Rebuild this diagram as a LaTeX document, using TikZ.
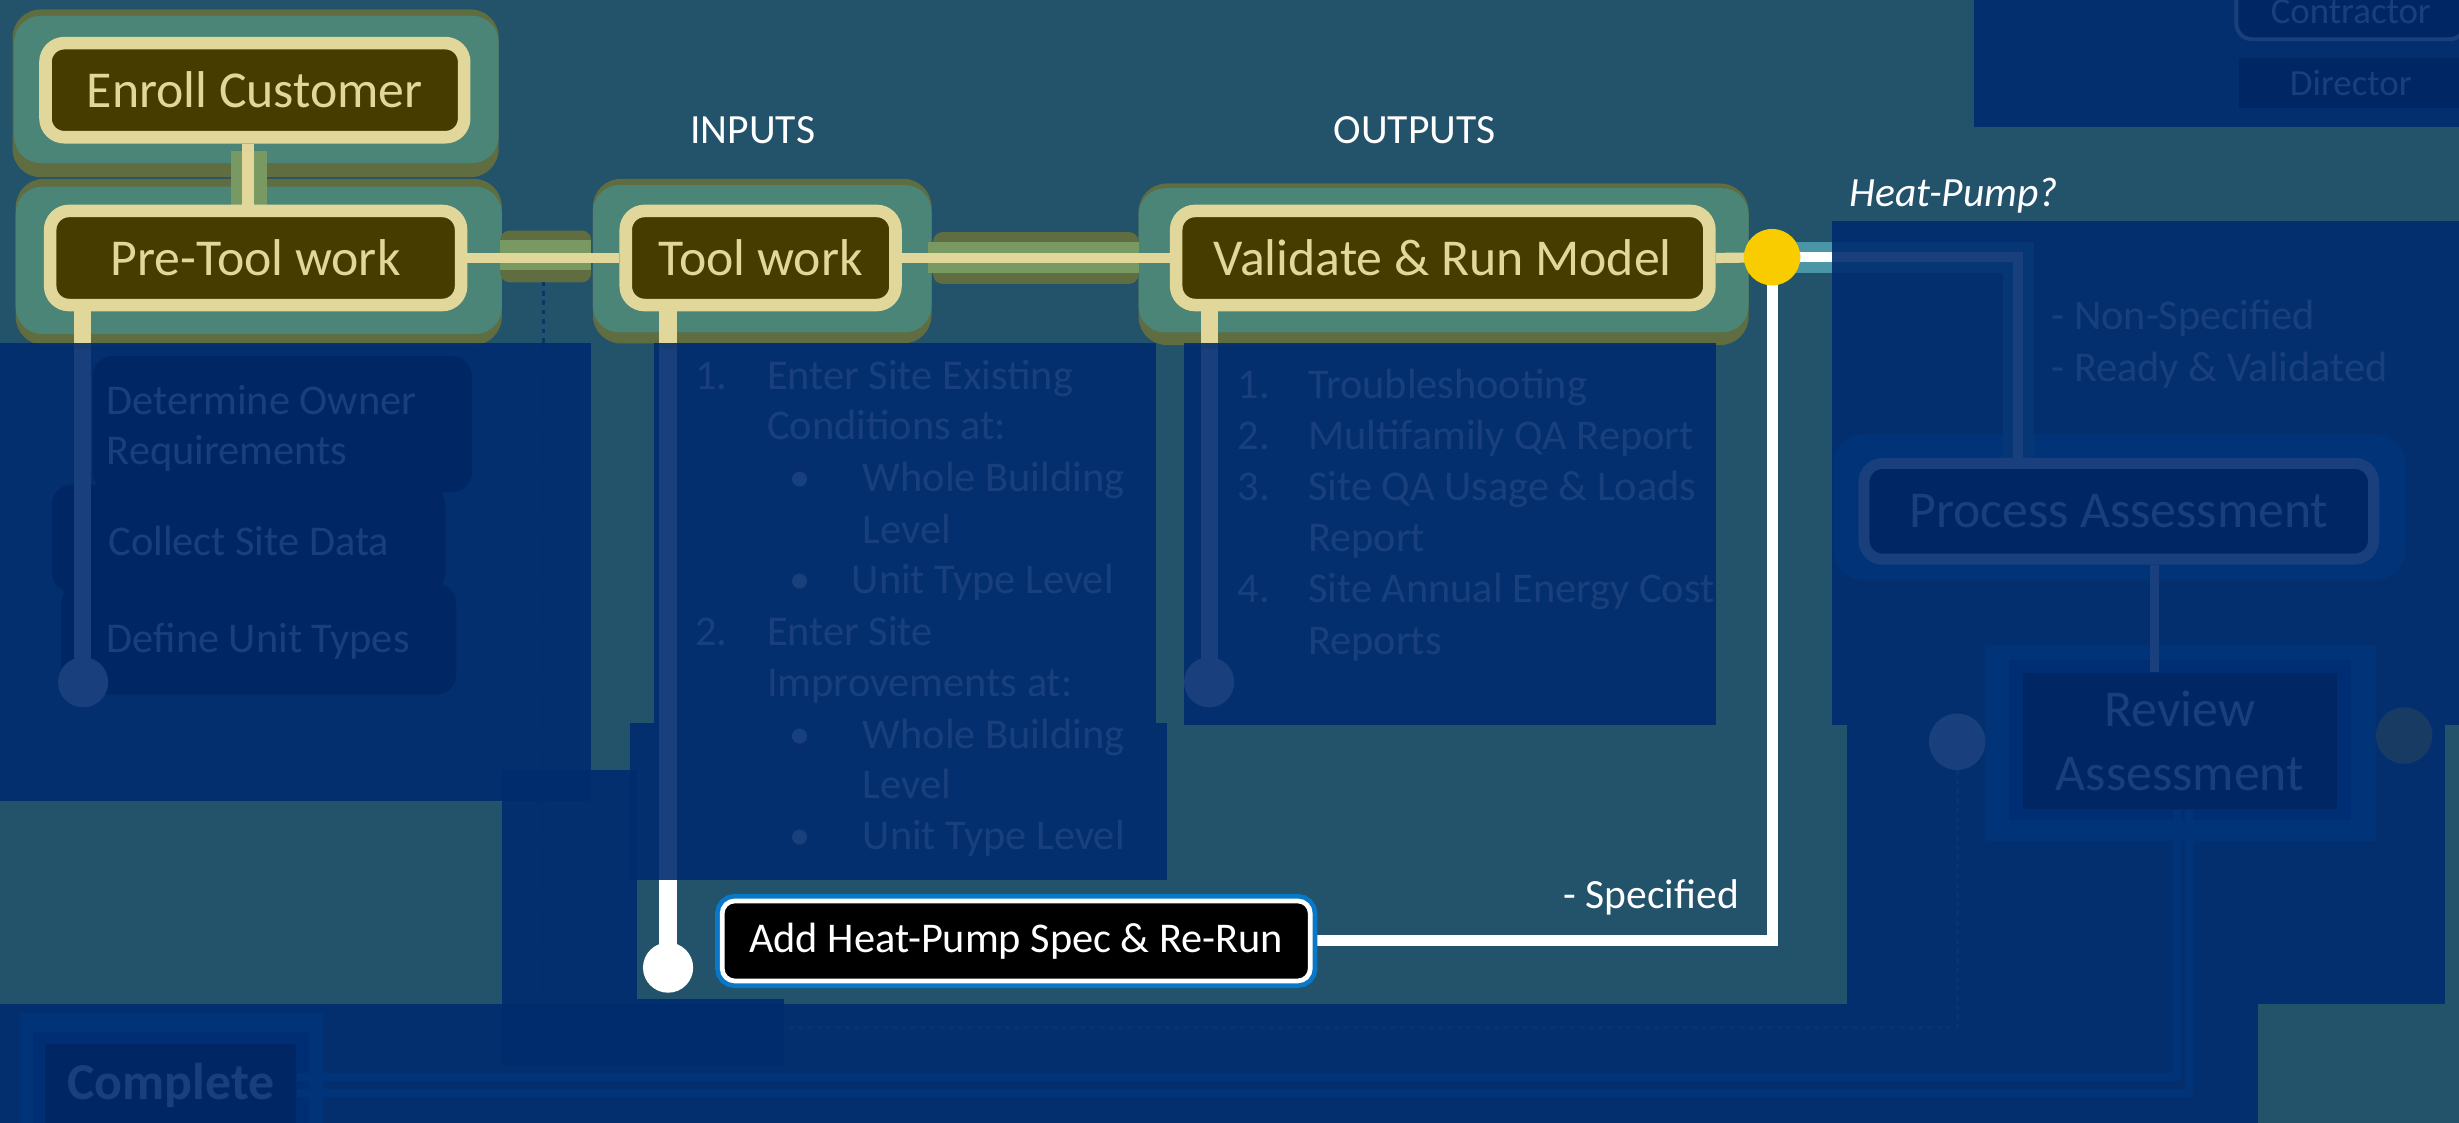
\documentclass[tikz,border=0pt]{standalone}
\usepackage{fontspec}
\setmainfont{Carlito}
\usetikzlibrary{calc}
\definecolor{bgc}{RGB}{35,82,107}
\definecolor{ovc}{RGB}{0,44,111}
\definecolor{tealglow}{RGB}{74,133,119}
\definecolor{olivec}{RGB}{95,109,65}
\definecolor{cream}{RGB}{226,215,155}
\definecolor{darkfill}{RGB}{70,60,0}
\definecolor{bandgreen}{RGB}{120,154,98}
\definecolor{dotyellow}{RGB}{249,204,0}
\definecolor{tealline}{RGB}{74,150,166}
\definecolor{hpblue}{RGB}{10,120,200}
\definecolor{midblue}{RGB}{0,70,170}
\definecolor{dashdark}{RGB}{10,55,100}
\newcommand{\myfs}[1]{\fontsize{#1}{#1}\selectfont}
\pgfdeclarelayer{glowlayer}
\pgfdeclarelayer{linelayer}
\pgfdeclarelayer{overlayer}
\pgfsetlayers{glowlayer,linelayer,main,overlayer}
\begin{document}
\begin{tikzpicture}[x=1pt,y=-1pt,
  mainnode/.style={draw=cream, line width=8pt, fill=darkfill, rounded corners=12pt, text=cream, font=\myfs{33}, inner sep=0pt, minimum height=60pt},
  hidnode/.style={draw=white, line width=7pt, fill=black, rounded corners=12pt, text=white, font=\myfs{33}, inner sep=0pt},
  hidbox/.style={fill=black, rounded corners=13pt, inner sep=0pt},
  hidtext/.style={text=white, font=\myfs{27}, inner sep=0pt, anchor=base west},
  lbl/.style={text=white, font=\myfs{26.5}, inner sep=0pt},
  hdot/.style={circle, fill=white, minimum size=32pt, inner sep=0pt},
  ydotstyle/.style={circle, fill=dotyellow, minimum size=36pt, inner sep=0pt},
  ovl/.style={fill=ovc, fill opacity=0.9},
  creamline/.style={draw=cream, line width=6.5pt},
  creamvline/.style={draw=cream, line width=11pt},
  whitevline/.style={draw=white, line width=11pt},
  faintline/.style={draw=hpblue, line width=5pt},
  addbox/.style={draw=white, line width=3pt, fill=black, rounded corners=8pt, preaction={draw=hpblue, line width=9pt}, text=white, font=\myfs{27}, minimum width=375pt, minimum height=51pt, inner sep=0pt},
  glowout/.style={fill=olivec, rounded corners=18pt},
  glowin/.style={fill=tealglow, rounded corners=17pt},
]
\useasboundingbox (0,0) rectangle (1568,716);
\begin{pgfonlayer}{glowlayer}
  \fill[bgc] (0,0) rectangle (1568,716);
  \fill[glowout] (8,6) rectangle (318,113);
  \fill[glowin] (9,10) rectangle (318,104);
  \fill[glowout] (10,114) rectangle (320,220);
  \fill[glowin] (10,119) rectangle (320,213);
  \fill[glowout] (378,114) rectangle (594,219);
  \fill[glowin] (378,118) rectangle (594,212);
  \fill[glowout] (726,117) rectangle (1115,220);
  \fill[glowin] (726,120) rectangle (1115,212);
  \fill[bandgreen] (147,96) rectangle (170,131);
  \fill[olivec, rounded corners=6pt] (319,147) rectangle (377,180);
  \fill[bandgreen] (319,153) rectangle (377,172);
  \fill[olivec, rounded corners=6pt] (595,148) rectangle (726,181);
  \fill[bandgreen] (592,154) rectangle (726,174);
  \node[hidbox, minimum width=252pt, minimum height=71pt] (define) at (165,407.5) {};
  \node[hidbox, minimum width=251pt, minimum height=69pt] (collect) at (158.5,343.5) {};
  \node[hidbox, minimum width=242pt, minimum height=87pt] (determine) at (180,270.5) {};
  \fill[hpblue, rounded corners=20pt] (1169,277) rectangle (1534,370);
  \fill[hpblue] (1266,411) rectangle (1515,536);
  \fill[midblue] (1281,421) rectangle (1499,523);
  \fill[hpblue] (13,646) rectangle (206,730);
  \fill[midblue] (21,658) rectangle (197,730);
\end{pgfonlayer}

% main nodes
\node[mainnode, minimum width=267pt] (enroll) at (162.5,57.5) {Enroll Customer};
\node[mainnode, minimum width=262pt] (pretool) at (163,164.5) {Pre-Tool work};
\node[mainnode, minimum width=172pt] (tool) at (485,164.5) {Tool work};
\node[mainnode, minimum width=340pt] (validate) at (920,164.5) {Validate \& Run Model};
\node[ydotstyle] (ydot) at (1130,164) {};
\node[hdot] (pdot) at (53,435) {};
\node[hdot] (tdot) at (426,617) {};
\node[hdot] (vdot) at (771,435) {};
\node[addbox] (addhp) at (648,600) {Add Heat-Pump Spec \& Re-Run};
\node[hidnode, minimum width=325pt, minimum height=61pt] (process) at (1351,326) {Process Assessment};
\node[fill=black, minimum width=200pt, minimum height=87pt, inner sep=0pt, text=white, align=center, font=\fontsize{33}{41}\selectfont] (review) at (1390,472.5) {Review\\Assessment};
\node[hdot, minimum size=36pt] (rdotl) at (1248,473) {};
\node[ydotstyle] (rdotr) at (1533,469) {};
\node[fill=black, minimum width=160pt, minimum height=52pt, inner sep=0pt, text=white, font=\bfseries\myfs{33}] (complete) at (109,692) {Complete};
\node[draw=white, line width=2.5pt, fill=black, rounded corners=10pt, minimum width=146pt, minimum height=50pt, inner sep=0pt] (contractor) at (1499,0) {};
\node[text=white, font=\myfs{23.5}, inner sep=0pt] (contractortext) at (1499,7.5) {Contractor};
\node[fill=black, minimum width=142pt, minimum height=32pt, inner sep=0pt, text=white, font=\myfs{23.5}] (director) at (1499,53) {Director};

% hidden texts
\node[hidtext] (t1) at (68,264) {Determine Owner};
\node[hidtext] (t2) at (68,296) {Requirements};
\node[hidtext] (t3) at (69,354) {Collect Site Data};
\node[hidtext] (t4) at (68,416) {Define Unit Types};
\node[hidtext] (m1n) at (443,248.4) {1.};
\node[hidtext] (m1) at (489,248.4) {Enter Site Existing};
\node[hidtext] (m2) at (489,280.4) {Conditions at:};
\node[hidtext] (m3b) at (503,313.4) {•};
\node[hidtext] (m3) at (550,313.4) {Whole Building};
\node[hidtext] (m4) at (550,346.4) {Level};
\node[hidtext] (m5b) at (503,378.4) {•};
\node[hidtext] (m5) at (543,378.4) {Unit Type Level};
\node[hidtext] (m6n) at (443,411.4) {2.};
\node[hidtext] (m6) at (489,411.4) {Enter Site};
\node[hidtext] (m7) at (489,444.4) {Improvements at:};
\node[hidtext] (m8b) at (503,477.4) {•};
\node[hidtext] (m8) at (550,477.4) {Whole Building};
\node[hidtext] (m9) at (550,509.4) {Level};
\node[hidtext] (m10b) at (503,541.4) {•};
\node[hidtext] (m10) at (550,541.4) {Unit Type Level};
\node[hidtext] (o1n) at (789,254.4) {1.};
\node[hidtext] (o1) at (834,254.4) {Troubleshooting};
\node[hidtext] (o2n) at (789,286.4) {2.};
\node[hidtext] (o2) at (834,286.4) {Multifamily QA Report};
\node[hidtext] (o3n) at (789,319.4) {3.};
\node[hidtext] (o3) at (834,319.4) {Site QA Usage \& Loads};
\node[hidtext] (o4) at (834,351.4) {Report};
\node[hidtext] (o5n) at (789,384.4) {4.};
\node[hidtext] (o5) at (834,384.4) {Site Annual Energy Cost};
\node[hidtext] (o6) at (834,417.4) {Reports};
\node[hidtext] (r1) at (1308,210.4) {- Non-Specified};
\node[hidtext] (r2) at (1308,243.4) {- Ready \& Validated};

% labels
\node[lbl] (inputs) at (480,83) {INPUTS};
\node[lbl] (outputs) at (902,83) {OUTPUTS};
\node[lbl, anchor=west, font=\itshape\myfs{26.5}] (hpq) at (1179,125) {Heat-Pump?};
\node[lbl, anchor=east] (spec) at (1109,572) {- Specified};

\begin{pgfonlayer}{linelayer}
  \coordinate (ec) at ([xshift=-4.5pt]enroll.south);
  \draw[draw=cream, line width=8pt] (ec) -- (ec |- pretool.north);
  \draw[creamline] (pretool.east) -- (tool.west);
  \draw[creamline] (tool.east) -- (validate.west);
  \draw[creamline] (validate.east) -- (ydot.center);
  \coordinate (pt) at ([xshift=-110.5pt]pretool.south);
  \coordinate (tt) at ([xshift=-59pt]tool.south);
  \coordinate (vt) at ([xshift=-149pt]validate.south);
  \draw[whitevline] (pt) -- (pt |- pdot.center);
  \draw[creamvline] (pt) -- ++(0,24);
  \draw[whitevline] (tt) -- (tt |- tdot.center);
  \draw[creamvline] (tt) -- ++(0,24);
  \draw[whitevline] (vt) -- (vt |- vdot.center);
  \draw[creamvline] (vt) -- ++(0,24);
  \coordinate (pc) at ([xshift=-64pt]process.north);
  \draw[tealline, line width=20pt] (ydot.center) -| (pc);
  \draw[white, line width=6.4pt] (ydot.center) -| (pc);
  \draw[white, line width=7pt] (ydot.center) |- (addhp.east);
  \coordinate (ps) at ([xshift=23pt]process.south);
  \draw[white, line width=6pt] (ps) -- (ps |- review.north);
  \coordinate (rs1) at ([xshift=-2pt]review.south);
  \coordinate (rs2) at ([xshift=6pt]review.south);
  \coordinate (ce1) at ([yshift=5.5pt]complete.east);
  \coordinate (ce2) at ([yshift=-5pt]complete.east);
  \draw[faintline] (rs1) |- (ce1);
  \draw[faintline] (rs2) |- (ce2);
  \coordinate (fe) at (500,655);
  \draw[white, opacity=0.3, line width=2pt, dashed] (rdotl.center) |- (fe);
  \coordinate (dla) at ([yshift=-15pt]$(pretool.east)!0.5!(tool.west)$);
  \draw[dashdark, line width=1.5pt, dashed] (dla) -- ++(0,460);
\end{pgfonlayer}

\begin{pgfonlayer}{overlayer}
  \fill[ovl] (1259,0) rectangle (1568,81);
  \fill[ovl] (1168,141) rectangle (1568,462);
  \fill[ovl] (1178,462) rectangle (1559,640);
  \fill[ovl] (0,219) rectangle (377,511);
  \fill[ovl] (417,219) rectangle (737,461);
  \fill[ovl] (402,461) rectangle (744,561);
  \fill[ovl] (755,219) rectangle (1094,462);
  \fill[ovl] (320,491) rectangle (406,637);
  \fill[ovl] (320,637) rectangle (500,680);
  \fill[ovl] (0,640) rectangle (1440,716);
\end{pgfonlayer}
\end{tikzpicture}
\end{document}
